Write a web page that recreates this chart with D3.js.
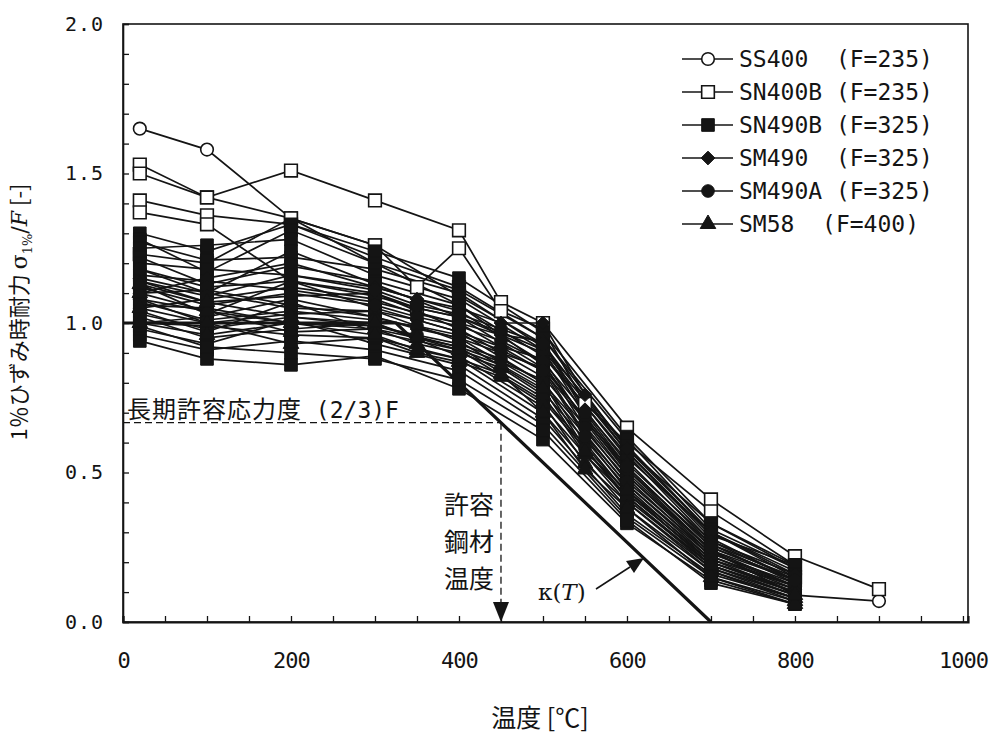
<!DOCTYPE html>
<html>
<head>
<meta charset="utf-8">
<script src="https://cdn.jsdelivr.net/npm/d3@7"></script>
<style>
  body { margin: 0; background: #fff; }
  svg { display: block; }
</style>
</head>
<body>
<div id="chart"></div>
<script>
// temperatures [°C] at which the specimens were measured
const temps = [20, 100, 200, 300, 350, 400, 450, 500, 550, 600, 700, 800, 900];

// sigma_1% / F, one row per specimen (null = not tested)
const ss400Series = [
  [1.65, 1.58, 1.35, 1.20, null, 1.06, null, 0.86, null, 0.50, 0.24, 0.09, 0.07]
];
const sn400bSeries = [
  [1.53, 1.42, 1.51, 1.41, null, 1.31, 1.07, 1.00, null, 0.65, 0.41, 0.22, 0.11],
  [1.50, 1.42, 1.35, 1.26, 1.12, 1.25, 1.04, 0.98, 0.73, 0.60, 0.37, 0.19, null],
  [1.41, 1.36, 1.33, 1.22, null, 1.12, null, 0.95, null, 0.58, 0.33, 0.18, null],
  [1.37, 1.33, 1.14, 1.10, 1.05, 1.02, null, 0.90, null, 0.55, 0.30, 0.15, null],
  [1.23, 1.20, 1.35, 1.26, null, 1.09, null, 0.93, null, 0.57, 0.28, 0.14, null]
];
const sn490bSeries = [
  [1.30, 1.24, 1.33, 1.24, null, 1.15, null, 0.97, null, 0.62, 0.33, 0.19, null],
  [1.28, 1.17, 1.31, 1.20, null, 1.11, null, 0.95, null, 0.61, 0.31, 0.18, null],
  [1.27, 1.21, 1.22, 1.18, null, 1.10, null, 0.92, null, 0.59, 0.30, 0.17, null],
  [1.25, 1.26, 1.28, 1.16, null, 1.08, null, 0.91, null, 0.57, 0.29, 0.19, null],
  [1.22, 1.13, 1.19, 1.14, null, 1.06, null, 0.89, null, 0.56, 0.27, 0.16, null],
  [1.20, 1.18, 1.16, 1.12, null, 1.04, null, 0.87, null, 0.54, 0.26, 0.15, null],
  [1.18, 1.10, 1.24, 1.13, null, 1.02, null, 0.85, null, 0.52, 0.25, 0.14, null],
  [1.16, 1.14, 1.11, 1.07, null, 1.00, null, 0.84, null, 0.51, 0.24, 0.14, null],
  [1.14, 1.07, 1.09, 1.10, null, 0.98, null, 0.82, null, 0.49, 0.23, 0.13, null],
  [1.13, 1.03, 1.14, 1.05, null, 0.97, null, 0.80, null, 0.48, 0.22, 0.12, null],
  [1.10, 1.11, 1.06, 1.02, null, 0.95, null, 0.79, null, 0.46, 0.21, 0.12, null],
  [1.08, 1.00, 1.03, 1.04, null, 0.94, null, 0.77, null, 0.45, 0.20, 0.11, null],
  [1.06, 1.05, 1.00, 0.99, null, 0.92, null, 0.75, null, 0.43, 0.20, 0.10, null],
  [1.04, 0.97, 1.07, 0.97, null, 0.91, null, 0.74, null, 0.42, 0.19, 0.10, null],
  [1.02, 0.95, 0.98, 1.00, null, 0.89, null, 0.72, null, 0.40, 0.18, 0.09, null],
  [1.00, 0.99, 0.96, 0.95, null, 0.88, null, 0.70, null, 0.38, 0.17, 0.08, null],
  [0.98, 0.93, 1.01, 0.93, null, 0.86, null, 0.68, null, 0.36, 0.16, 0.08, null],
  [0.96, 0.91, 0.94, 0.91, null, 0.84, null, 0.66, null, 0.35, 0.15, 0.07, null],
  [0.94, 0.88, 0.86, 0.89, null, 0.78, null, 0.61, null, 0.33, 0.14, 0.06, null],
  [0.99, 0.92, 0.90, 0.88, null, 0.81, null, 0.64, null, 0.34, 0.13, 0.06, null]
];
const sm490Series = [
  [1.10, 1.15, 1.20, 1.12, 1.08, 1.05, 1.00, 1.00, 0.76, 0.58, 0.30, 0.16, null],
  [1.05, 1.08, 1.12, 1.08, 1.03, 1.00, 0.96, 0.94, 0.71, 0.53, 0.27, 0.14, null],
  [1.15, 1.10, 1.05, 1.04, 1.01, 0.97, 0.92, 0.88, 0.67, 0.49, 0.24, 0.12, null],
  [1.00, 1.02, 1.08, 1.02, 0.98, 0.95, 0.90, 0.85, 0.63, 0.46, 0.22, 0.11, null],
  [1.08, 1.04, 1.00, 0.98, 0.95, 0.92, 0.87, 0.81, 0.60, 0.43, 0.20, 0.10, null]
];
const sm490aSeries = [
  [1.18, 1.12, 1.14, 1.09, 1.05, 1.02, 0.97, 0.91, 0.69, 0.51, 0.26, 0.13, null],
  [1.12, 1.06, 1.10, 1.06, 1.02, 0.99, 0.94, 0.87, 0.65, 0.47, 0.23, 0.12, null],
  [1.07, 1.01, 1.04, 1.01, 0.99, 0.96, 0.91, 0.84, 0.62, 0.44, 0.21, 0.10, null],
  [1.03, 0.98, 1.02, 0.99, 0.96, 0.93, 0.88, 0.80, 0.58, 0.41, 0.19, 0.09, null],
  [1.14, 1.09, 1.16, 1.11, 1.06, 1.03, 0.98, 0.93, 0.70, 0.52, 0.25, 0.14, null]
];
const sm58Series = [
  [1.05, 1.00, 0.93, 0.95, 0.90, 0.87, 0.82, 0.73, 0.53, 0.40, 0.17, 0.07, null],
  [1.10, 1.04, 0.97, 0.98, 0.93, 0.90, 0.85, 0.76, 0.56, 0.42, 0.18, 0.08, null],
  [1.00, 0.96, 1.00, 0.96, 0.91, 0.88, 0.83, 0.70, 0.51, 0.38, 0.15, 0.06, null],
  [1.13, 1.07, 1.02, 1.00, 0.95, 0.91, 0.86, 0.78, 0.57, 0.44, 0.19, 0.09, null]
];

// kappa(T) design curve: 1.0 up to 325°C, (700-T)/375 up to 700°C
const kappaT = [0, 325, 700];
const kappaV = [1.0, 1.0, 0.0];

const legendLabels = ["SS400  (F=235)", "SN400B (F=235)", "SN490B (F=325)",
                      "SM490  (F=325)", "SM490A (F=325)", "SM58  (F=400)"];
const xTickLabels = [0, 200, 400, 600, 800, 1000];
const yTickLabels = [0.0, 0.5, 1.0, 1.5, 2.0];

const width = 997, height = 734;
const ink = "#141414";
const mono = "'DejaVu Sans Mono', monospace";
const cjk = "'Noto Sans CJK JP', sans-serif";
const serif = "'DejaVu Serif', serif";

const groups = [
  {name: "SS400", rows: ss400Series, shape: "circle", open: true},
  {name: "SN400B", rows: sn400bSeries, shape: "square", open: true},
  {name: "SN490B", rows: sn490bSeries, shape: "square", open: false},
  {name: "SM490", rows: sm490Series, shape: "diamond", open: false},
  {name: "SM490A", rows: sm490aSeries, shape: "circle", open: false},
  {name: "SM58", rows: sm58Series, shape: "triangle", open: false}
];

const x = d3.scaleLinear().domain([0, 1006]).range([123, 968]);
const y = d3.scaleLinear().domain([0, 2]).range([622, 24]);

const svg = d3.select("#chart").append("svg")
  .attr("width", width).attr("height", height)
  .attr("viewBox", [0, 0, width, height]);

const symbolOf = (shape) => {
  if (shape === "circle") return d3.symbol(d3.symbolCircle, 125);
  if (shape === "square") return d3.symbol(d3.symbolSquare, 160);
  if (shape === "diamond") return d3.symbol(d3.symbolDiamond2, 120);
  return d3.symbol(d3.symbolTriangle, 105);
};

// turn rows into point lists
let series = [];
groups.forEach(g => {
  g.rows.forEach(r => {
    const pts = temps.map((t, i) => ({t, v: r[i]})).filter(d => d.v != null);
    series.push({g, pts});
  });
});

const line = d3.line().x(d => x(d.t)).y(d => y(d.v));

// frame
svg.append("rect")
  .attr("x", x(0)).attr("y", y(2))
  .attr("width", x(1006) - x(0)).attr("height", y(0) - y(2))
  .attr("fill", "none").attr("stroke", ink).attr("stroke-width", 1.6);

// axes
const xAxis = d3.axisBottom(x)
  .tickValues(d3.range(0, 1001, 50))
  .tickSize(-6).tickPadding(30)
  .tickFormat(d => xTickLabels.includes(d) ? d : "");
const gx = svg.append("g").attr("transform", `translate(0,${y(0)})`).call(xAxis);
gx.select(".domain").attr("stroke", ink).attr("stroke-width", 2.2);

const yAxis = d3.axisLeft(y)
  .tickValues(d3.range(0, 21).map(i => i / 10))
  .tickSize(-6).tickPadding(19)
  .tickFormat(d => yTickLabels.some(v => Math.abs(v - d) < 1e-9) ? d3.format(".1f")(d) : "");
const gy = svg.append("g").attr("transform", `translate(${x(0)},0)`).call(yAxis);
gy.select(".domain").attr("stroke", ink).attr("stroke-width", 1.6);

svg.selectAll(".tick line").attr("stroke", ink).attr("stroke-width", 1.3);
gx.selectAll("text").attr("font-family", mono).attr("font-size", 22).attr("fill", ink)
  .attr("letter-spacing", "-1px");
gy.selectAll("text").attr("font-family", mono).attr("font-size", 20).attr("fill", ink)
  .attr("letter-spacing", "1px");

// data lines
svg.append("g")
  .selectAll("path")
  .data(series)
  .join("path")
  .attr("d", d => line(d.pts))
  .attr("fill", "none")
  .attr("stroke", ink)
  .attr("stroke-width", 1.7);

// kappa(T)
svg.append("path")
  .attr("d", line(kappaT.map((t, i) => ({t, v: kappaV[i]}))))
  .attr("fill", "none").attr("stroke", ink).attr("stroke-width", 3.2);

// markers in specimen order (open ones first, so the dense filled ones cover them)
const markerData = [];
series.forEach(s => {
  s.pts.forEach(p => markerData.push({g: s.g, t: p.t, v: p.v}));
});
svg.append("g")
  .selectAll("path")
  .data(markerData)
  .join("path")
  .attr("transform", d => `translate(${x(d.t)},${y(d.v)})`)
  .attr("d", d => symbolOf(d.g.shape)())
  .attr("fill", d => d.g.open ? "#fff" : ink)
  .attr("stroke", ink)
  .attr("stroke-width", d => d.g.open ? 1.6 : 1);

// long-term allowable stress (2/3)F
svg.append("line")
  .attr("x1", x(0)).attr("x2", x(450))
  .attr("y1", y(2 / 3)).attr("y2", y(2 / 3))
  .attr("stroke", ink).attr("stroke-width", 1.3).attr("stroke-dasharray", "7,4");
const lt = svg.append("text")
  .attr("x", 127).attr("y", y(2 / 3) - 5)
  .attr("font-size", 24).attr("fill", ink);
lt.append("tspan").attr("font-family", cjk).attr("letter-spacing", "1px").text("長期許容応力度");
lt.append("tspan").attr("font-family", mono).attr("font-size", 23).text(" (2/3)F");

// allowable steel temperature arrow
svg.append("line")
  .attr("x1", x(450)).attr("x2", x(450))
  .attr("y1", y(2 / 3)).attr("y2", y(0) - 18)
  .attr("stroke", ink).attr("stroke-width", 1.3).attr("stroke-dasharray", "7,4");
svg.append("path")
  .attr("d", `M${x(450) - 8},${y(0) - 20}L${x(450) + 8},${y(0) - 20}L${x(450)},${y(0)}Z`)
  .attr("fill", ink);
["許容", "鋼材", "温度"].forEach((s, i) => {
  svg.append("text")
    .attr("x", x(450) - 7).attr("y", 514 + i * 37)
    .attr("text-anchor", "end")
    .attr("font-family", cjk).attr("font-size", 25).attr("fill", ink)
    .text(s);
});

// kappa(T) label and arrow
const kap = svg.append("text")
  .attr("x", 538).attr("y", 600)
  .attr("font-family", serif).attr("font-size", 23).attr("fill", ink);
kap.append("tspan").text("κ(");
kap.append("tspan").attr("font-style", "italic").text("T");
kap.append("tspan").text(")");
svg.append("line")
  .attr("x1", 596).attr("y1", 589).attr("x2", 630).attr("y2", 567)
  .attr("stroke", ink).attr("stroke-width", 1.5);
svg.append("path")
  .attr("d", "M644,558L626,561L634,573Z")
  .attr("fill", ink);

// legend
const leg = svg.append("g");
legendLabels.forEach((lab, i) => {
  const g = groups[i];
  const ly = 59 + i * 33;
  leg.append("line")
    .attr("x1", 682).attr("x2", 733).attr("y1", ly).attr("y2", ly)
    .attr("stroke", ink).attr("stroke-width", 1.5);
  leg.append("path")
    .attr("transform", `translate(708,${ly})`)
    .attr("d", symbolOf(g.shape)())
    .attr("fill", g.open ? "#fff" : ink)
    .attr("stroke", ink).attr("stroke-width", g.open ? 1.6 : 1);
  leg.append("text")
    .attr("x", 739).attr("y", ly).attr("dy", "0.36em")
    .attr("font-family", mono).attr("font-size", 23).attr("fill", ink)
    .style("white-space", "pre")
    .text(lab);
});

// axis titles
svg.append("text")
  .attr("x", 540).attr("y", 727)
  .attr("text-anchor", "middle")
  .attr("font-family", cjk).attr("font-size", 25).attr("fill", ink)
  .text("温度 [℃]");

const yt = svg.append("text")
  .attr("transform", "translate(27,312) rotate(-90)")
  .attr("text-anchor", "middle")
  .attr("font-family", cjk).attr("font-size", 22).attr("fill", ink);
yt.append("tspan").text("1％ひずみ時耐力 ");
yt.append("tspan").attr("font-family", serif).text("σ");
yt.append("tspan").attr("font-family", serif).attr("font-size", 13)
  .attr("dy", 5).text("1%");
yt.append("tspan").attr("font-family", serif).attr("dy", -5).text("/");
yt.append("tspan").attr("font-family", serif).attr("font-style", "italic").text("F");
yt.append("tspan").text(" [-]");
</script>
</body>
</html>
